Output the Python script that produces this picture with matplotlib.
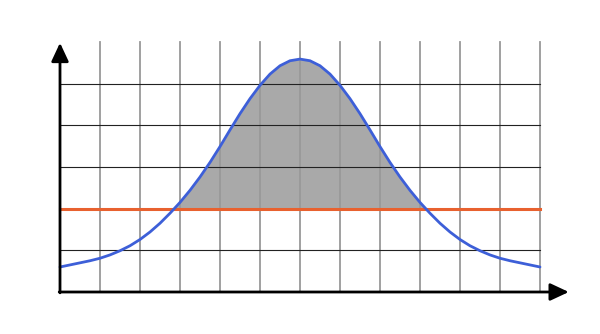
import numpy as np
from matplotlib import pyplot as plt

# curve, one point every quarter grid cell
xs = np.arange(-6, 6.01, 0.25)
ys = np.array([
    0.60, 0.65, 0.70, 0.75, 0.81, 0.89, 0.99, 1.11, 1.26, 1.44, 1.65, 1.89,
    2.15, 2.44, 2.76, 3.11, 3.49, 3.89, 4.28, 4.64, 4.96, 5.23, 5.43, 5.55,
    5.59,
    5.55, 5.43, 5.23, 4.96, 4.64, 4.28, 3.89, 3.49, 3.11, 2.76, 2.44, 2.15,
    1.89, 1.65, 1.44, 1.26, 1.11, 0.99, 0.89, 0.81, 0.75, 0.70, 0.65, 0.60,
])
level = 2.0

v_grid = list(range(-5, 7))
h_grid = [1, 3, 4, 5]

fig = plt.figure(figsize=(6, 3.34), dpi=100)
ax = fig.add_axes([0, 0, 1, 1])
ax.set_xlim(-7.5, 7.5)
ax.set_ylim(-1.008, 7.008)
ax.axis("off")

# shaded area between curve and level
ax.fill_between(xs, ys, level, where=ys >= level, interpolate=True,
                color="#a9a9a9", lw=0, zorder=1)

for gx in v_grid:
    ax.plot([gx, gx], [0, 6], color="#999999", lw=1.3, zorder=2)
for gy in h_grid:
    ax.plot([-6, 6], [gy, gy], color="#222222", lw=0.8, zorder=2)

ax.plot([-6, 6], [level, level], color="#e8612f", lw=2.2, zorder=3)
ax.plot(xs, ys, color="#3d5fd8", lw=2.0, zorder=4,
        solid_capstyle="round", solid_joinstyle="round")

# axes with arrow heads
head = "-|>,head_length=0.75,head_width=0.35"
ax.annotate("", xy=(6.72, 0), xytext=(-6.02, 0),
            arrowprops=dict(arrowstyle=head, lw=2.0, color="black",
                            shrinkA=0, shrinkB=0, mutation_scale=15), zorder=5)
ax.annotate("", xy=(-6, 5.98), xytext=(-6, -0.02),
            arrowprops=dict(arrowstyle=head, lw=2.0, color="black",
                            shrinkA=0, shrinkB=0, mutation_scale=15), zorder=5)

plt.savefig("out.png", dpi=100)
